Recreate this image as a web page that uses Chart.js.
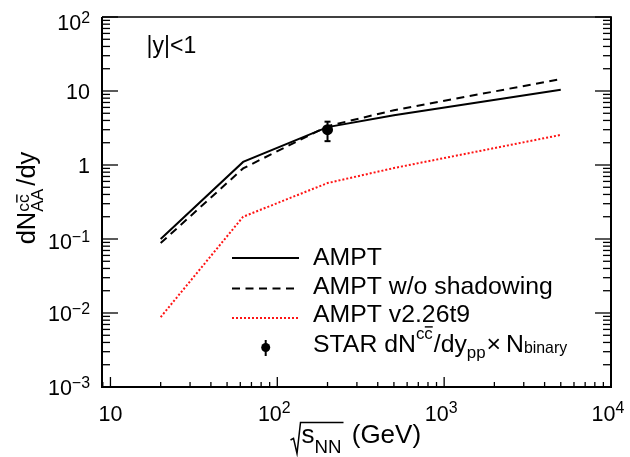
<!DOCTYPE html>
<html><head><meta charset="utf-8">
<script src="https://cdn.jsdelivr.net/npm/chart.js@4/dist/chart.umd.min.js"></script>
<style>html,body{margin:0;padding:0;background:#fff}canvas{display:block}</style>
</head><body>
<canvas id="c" width="630" height="457"></canvas>
<script>
// ---- data ----
const energies = [20, 62.4, 200, 500, 5000];
const amptValues = [0.10, 1.1, 3.25, 4.7, 10.4];
const amptNoShadowValues = [0.088, 0.9, 3.35, 5.5, 14.5];
const amptOldValues = [0.0088, 0.2, 0.57, 0.91, 2.55];
const starEnergies = [200];
const starValues = [3.0];
const starErrUp = [0.85];
const starErrDown = [0.9];
const xTickValues = [10, 100, 1000, 10000];
const xTickBases = ['10', '10', '10', '10'];
const xTickExps = ['', '2', '3', '4'];
const yTickValues = [100, 10, 1, 0.1, 0.01, 0.001];
const yTickBases = ['10', '10', '1', '10', '10', '10'];
const yTickExps = ['2', '', '', '\u22121', '\u22122', '\u22123'];
const seriesLabels = ['AMPT', 'AMPT w/o shadowing', 'AMPT v2.26t9'];
const rapidityLabel = '|y|<1';

const FONT = '"Liberation Sans", Arial, Helvetica, sans-serif';
const toXY = (xs, ys) => xs.map((x, i) => ({x: x, y: ys[i]}));

function segsWidth(ctx, segs, size) {
  let w = 0;
  for (const s of segs) {
    if (s.stack) { w += Math.max(segsWidth(ctx, s.stack[0], size), segsWidth(ctx, s.stack[1], size)) + (s.gap || 0); continue; }
    ctx.font = (size * (s.r || 1)) + 'px ' + FONT;
    w += ctx.measureText(s.t).width + (s.gap || 0);
  }
  return w;
}
function drawSegs(ctx, segs, x0, y, size) {
  let cx = x0;
  for (const s of segs) {
    if (s.stack) {
      const w1 = drawSegs(ctx, s.stack[0], cx, y, size);
      const w2 = drawSegs(ctx, s.stack[1], cx, y, size);
      cx += Math.max(w1, w2) + (s.gap || 0);
      continue;
    }
    const fs = size * (s.r || 1);
    ctx.font = fs + 'px ' + FONT;
    const w = ctx.measureText(s.t).width;
    ctx.fillText(s.t, cx, y + (s.dy || 0));
    if (s.ov) {
      const oy = y + (s.dy || 0) - fs * (s.ovh || 0.7);
      ctx.fillRect(cx + 0.5, oy - 0.7, w - 0.5, 1.4);
    }
    cx += w + (s.gap || 0);
  }
  return cx - x0;
}
function drawRich(ctx, segs, x, y, size, align) {
  const W = segsWidth(ctx, segs, size);
  const sx = align === 'right' ? x - W : (align === 'center' ? x - W / 2 : x);
  drawSegs(ctx, segs, sx, y, size);
  return {x: sx, w: W};
}
function line(c, x1, y1, x2, y2) { c.beginPath(); c.moveTo(x1, y1); c.lineTo(x2, y2); c.stroke(); }

const overlay = {
  id: 'overlay',
  beforeDraw(chart) {
    const c = chart.ctx; c.save(); c.fillStyle = '#fff'; c.fillRect(0, 0, chart.width, chart.height); c.restore();
  },
  afterDatasetsDraw(chart) {
    const c = chart.ctx, xs = chart.scales.x, ys = chart.scales.y;
    c.save(); c.strokeStyle = '#000'; c.lineWidth = 2;
    starEnergies.forEach((e, i) => {
      const px = xs.getPixelForValue(e);
      const pt = ys.getPixelForValue(starValues[i] + starErrUp[i]);
      const pb = ys.getPixelForValue(starValues[i] - starErrDown[i]);
      line(c, px, pt, px, pb);
      line(c, px - 3, pt, px + 3, pt);
      line(c, px - 3, pb, px + 3, pb);
    });
    c.restore();
  },
  afterDraw(chart) {
    const c = chart.ctx, xs = chart.scales.x, ys = chart.scales.y, a = chart.chartArea;
    c.save();
    c.fillStyle = '#000'; c.strokeStyle = '#000';
    // ticks
    c.lineWidth = 1.3;
    for (let k = -3; k <= 2; k++) {
      for (let m = 1; m <= 9; m++) {
        const v = m * Math.pow(10, k);
        if (v > 100.001) break;
        const py = ys.getPixelForValue(v);
        const L = m === 1 ? 16 : 8;
        line(c, a.left, py, a.left + L, py);
        line(c, a.right, py, a.right - L, py);
      }
    }
    for (let k = 0; k <= 4; k++) {
      for (let m = 1; m <= 9; m++) {
        const v = m * Math.pow(10, k);
        if (v < xs.min - 1e-9 || v > xs.max * 1.0001) continue;
        const px = xs.getPixelForValue(v);
        const L = m === 1 ? 10 : 5;
        line(c, px, a.bottom, px, a.bottom - L);
      }
    }
    // frame
    c.lineWidth = 2;
    line(c, a.left, a.top, a.left, a.bottom + 1);
    line(c, a.left - 1, a.bottom, a.right + 1, a.bottom);
    line(c, a.right, a.top, a.right, a.bottom + 1);
    c.lineWidth = 1.6;
    line(c, a.left, a.top, a.right + 1, a.top);

    // tick labels
    c.textBaseline = 'alphabetic';
    yTickValues.forEach((v, i) => {
      const py = ys.getPixelForValue(v);
      const segs = [{t: yTickBases[i]}];
      if (yTickExps[i]) segs.push({t: yTickExps[i], r: 0.74, dy: -7.5});
      let by = py + 8;
      if (yTickExps[i] && v >= 100) by = py + 13;
      else if (yTickExps[i] && v >= 0.1) by = py + 10;
      drawRich(c, segs, 90, by, 21.5, 'right');
    });
    xTickValues.forEach((v, i) => {
      const px = xs.getPixelForValue(v);
      const segs = [{t: xTickBases[i]}];
      if (xTickExps[i]) segs.push({t: xTickExps[i], r: 0.74, dy: -8});
      drawRich(c, segs, xTickExps[i] ? px - 3 : px, 421, 21.5, 'center');
    });

    // x title with radical
    drawRich(c, [{t: 's'}, {t: 'NN', r: 0.72, dy: 9.4, gap: 3}, {t: ' (GeV)'}], 301.5, 443.3, 26, 'left');
    c.font = '26px ' + FONT;
    const sw = c.measureText('s').width;
    c.font = (26 * 0.72) + 'px ' + FONT;
    const nw = c.measureText('NN').width;
    c.lineWidth = 1.5; c.lineJoin = 'miter';
    c.beginPath();
    c.moveTo(290.5, 440); c.lineTo(293.5, 438.3); c.lineTo(297, 453.5); c.lineTo(300.5, 422.5); c.lineTo(301.5 + sw + nw + 2, 422.5);
    c.stroke();

    // y title (rotated)
    c.save();
    c.translate(35, 198);
    c.rotate(-Math.PI / 2);
    drawRich(c, [
      {t: 'dN'},
      {stack: [[{t: 'c', r: 0.68, dy: -6}, {t: 'c', r: 0.68, dy: -6, ov: true}], [{t: 'AA', r: 0.68, dy: 8}]], gap: 3},
      {t: '/dy'}
    ], 0, 0, 25.5, 'center');
    c.restore();

    // rapidity label
    drawRich(c, [{t: rapidityLabel}], 146.5, 53, 23, 'left');

    // legend
    const lx1 = 232, lx2 = 299, tx = 313;
    c.lineWidth = 2; c.strokeStyle = '#000';
    c.setLineDash([]); line(c, lx1, 258, lx2, 258);
    c.setLineDash([8, 5.5]); line(c, lx1, 288.5, lx2, 288.5);
    c.strokeStyle = 'rgb(255,20,20)'; c.setLineDash([2, 2]); line(c, lx1, 318, lx2, 318);
    c.setLineDash([]); c.strokeStyle = '#000';
    // STAR marker
    line(c, 265.7, 340, 265.7, 356);
    c.beginPath(); c.arc(265.7, 347.5, 4.5, 0, Math.PI * 2); c.fill();

    const LF = 24.8;
    drawRich(c, [{t: seriesLabels[0]}], tx, 265, LF, 'left');
    drawRich(c, [{t: seriesLabels[1]}], tx, 293.5, LF, 'left');
    drawRich(c, [{t: seriesLabels[2]}], tx, 322, LF, 'left');
    drawRich(c, [
      {t: 'STAR dN'},
      {t: 'c', r: 0.68, dy: -13}, {t: 'c', r: 0.68, dy: -13, ov: true, gap: 1},
      {t: '/dy'},
      {t: 'pp', r: 0.68, dy: 6.5, gap: 1},
      {t: '\u00d7', gap: 5},
      {t: 'N'},
      {t: 'binary', r: 0.64, dy: 1.6}
    ], tx, 351.7, LF, 'left');
    c.restore();
  }
};

new Chart(document.getElementById('c'), {
  type: 'scatter',
  data: {
    datasets: [
      {label: seriesLabels[0], data: toXY(energies, amptValues), showLine: true, borderColor: '#000', backgroundColor: '#000', borderWidth: 2, pointRadius: 0, tension: 0},
      {label: seriesLabels[1], data: toXY(energies, amptNoShadowValues), showLine: true, borderColor: '#000', borderDash: [8, 5.5], borderWidth: 2, pointRadius: 0, tension: 0},
      {label: seriesLabels[2], data: toXY(energies, amptOldValues), showLine: true, borderColor: 'rgb(255,20,20)', borderDash: [2, 2], borderWidth: 2, pointRadius: 0, tension: 0},
      {label: 'STAR', data: toXY(starEnergies, starValues), showLine: false, borderColor: '#000', backgroundColor: '#000', pointRadius: 5.5, pointBorderWidth: 0}
    ]
  },
  options: {
    responsive: false,
    animation: false,
    devicePixelRatio: 1,
    layout: {padding: {left: 0, right: 19, top: 17, bottom: 0}},
    plugins: {legend: {display: false}, tooltip: {enabled: false}},
    scales: {
      x: {type: 'logarithmic', min: 8.9, max: 10000,
          grid: {display: false}, border: {display: false}, ticks: {display: false},
          afterFit: s => { s.height = 70; }},
      y: {type: 'logarithmic', min: 0.001, max: 100,
          grid: {display: false}, border: {display: false}, ticks: {display: false},
          afterFit: s => { s.width = 102; }}
    }
  },
  plugins: [overlay]
});
</script>
</body></html>
